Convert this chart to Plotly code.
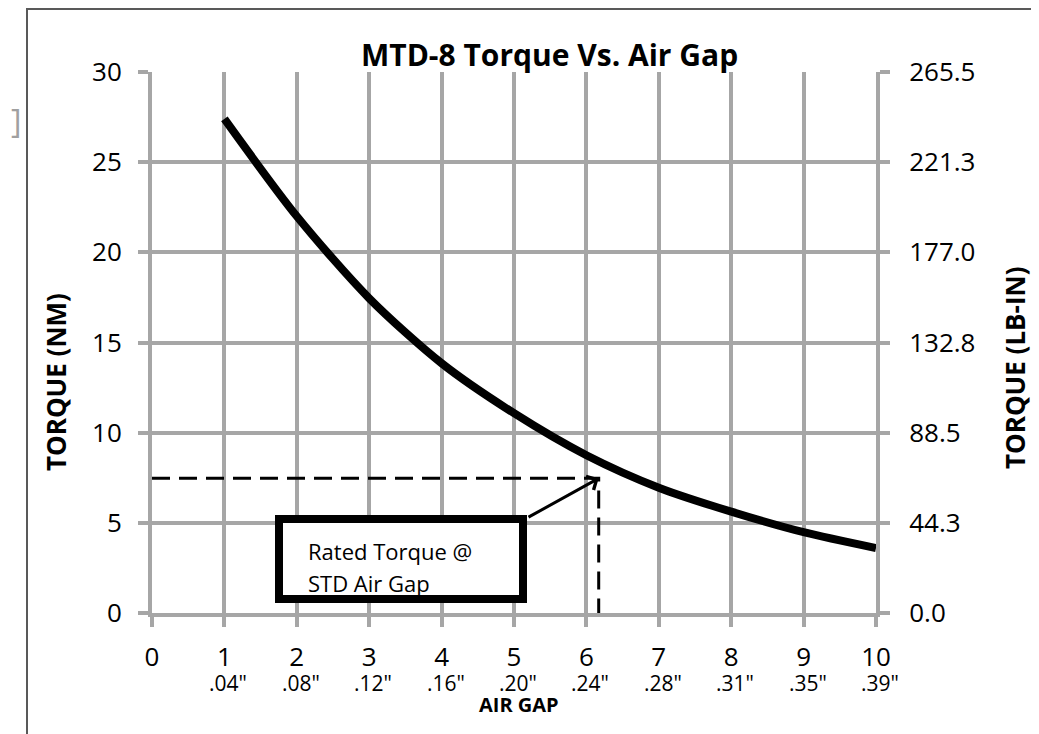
import plotly.graph_objects as go

# ---- data ----
gap_pos = [1, 2, 3, 4, 5, 6, 7, 8, 9, 10]
torque_nm = [27.4, 22.0, 17.45, 13.85, 11.08, 8.75, 6.95, 5.62, 4.48, 3.6]

x_ticks = [0, 1, 2, 3, 4, 5, 6, 7, 8, 9, 10]
x_sub_labels = ['.04"', '.08"', '.12"', '.16"', '.20"', '.24"', '.28"', '.31"', '.35"', '.39"']
nm_ticks = [0, 5, 10, 15, 20, 25, 30]
lbin_tick_labels = ["0.0", "44.3", "88.5", "132.8", "177.0", "221.3", "265.5"]
NM_TO_LBIN = 8.85

rated_gap = 6.17
rated_torque = 7.47

GRID = "#A6A6A6"
FONT = "Open Sans"

# ---- geometry: page pixels (body has an 8px margin) ----
OFF = 8
W, H = 1031, 726
L, R, T, B = 152 - OFF, 876 - OFF, 72 - OFF, 613 - OFF
XU = (R - L) / 10.0
YU = (B - T) / 30.0


def px(xpage):
    return (xpage - OFF - L) / (R - L)


def py(ypage):
    return (B - (ypage - OFF)) / (B - T)


def dx(xpage):
    return (xpage - OFF - L) / XU


def dy(ypage):
    return (B - (ypage - OFF)) / YU


fig = go.Figure()

fig.add_trace(go.Scatter(
    x=gap_pos, y=torque_nm, mode="lines",
    line=dict(color="black", width=8, shape="spline", smoothing=0.8),
    showlegend=False, hoverinfo="skip"))

# invisible trace on the right axis so it is drawn
fig.add_trace(go.Scatter(
    x=gap_pos, y=[v * NM_TO_LBIN for v in torque_nm], mode="lines",
    line=dict(width=0), opacity=0, yaxis="y2",
    showlegend=False, hoverinfo="skip"))

# dashed rated-torque guide
fig.add_trace(go.Scatter(
    x=[0, rated_gap, rated_gap], y=[rated_torque, rated_torque, 0],
    mode="lines", line=dict(color="black", width=3, dash="18px,9px"),
    showlegend=False, hoverinfo="skip"))

axis_common = dict(
    showgrid=True, gridcolor=GRID, gridwidth=4,
    showline=True, linecolor=GRID, linewidth=4,
    ticks="outside", ticklen=10, tickwidth=4, tickcolor=GRID,
    zeroline=False,
    tickfont=dict(family=FONT, size=26, color="black"),
)

fig.update_layout(
    width=W, height=H,
    margin=dict(l=L, r=W - R, t=T, b=H - B),
    paper_bgcolor="white", plot_bgcolor="white",
    xaxis=dict(range=[0, 10], tickvals=x_ticks, ticktext=[str(v) for v in x_ticks],
               ticklabelstandoff=8, **axis_common),
    yaxis=dict(range=[0, 30], tickvals=nm_ticks, ticktext=[str(v) for v in nm_ticks],
               ticklabelstandoff=11, **axis_common),
    yaxis2=dict(range=[0, 30 * NM_TO_LBIN], overlaying="y", side="right",
                tickvals=[v * NM_TO_LBIN for v in nm_ticks], ticktext=lbin_tick_labels,
                showgrid=False, showline=True, linecolor=GRID, linewidth=4,
                ticks="outside", ticklen=10, tickwidth=4, tickcolor=GRID,
                zeroline=False, ticklabelstandoff=14,
                tickfont=dict(family=FONT, size=26, color="black")),
    showlegend=False,
)

annotations = []
# sub labels under x ticks
for xv, lab in zip(x_ticks[1:], x_sub_labels):
    annotations.append(dict(x=xv, y=0, xref="x", yref="paper", text=lab, showarrow=False,
                            xanchor="center", yanchor="middle", yshift=-(683 - 613), xshift=4,
                            font=dict(family=FONT, size=21, color="black")))

annotations += [
    dict(x=px(549), y=py(54), xref="paper", yref="paper", text="<b>MTD-8 Torque Vs. Air Gap</b>",
         showarrow=False, xanchor="center", yanchor="middle",
         font=dict(family=FONT, size=30, color="black")),
    dict(x=px(56), y=py(382), xref="paper", yref="paper", text="<b>TORQUE (NM)</b>",
         showarrow=False, textangle=-90, xanchor="center", yanchor="middle",
         font=dict(family=FONT, size=26, color="black")),
    dict(x=px(1015), y=py(368), xref="paper", yref="paper", text="<b>TORQUE (LB-IN)</b>",
         showarrow=False, textangle=-90, xanchor="center", yanchor="middle",
         font=dict(family=FONT, size=26, color="black")),
    dict(x=px(519), y=py(704), xref="paper", yref="paper", text="<b>AIR GAP</b>",
         showarrow=False, xanchor="center", yanchor="middle",
         font=dict(family=FONT, size=20, color="black")),
    # arrow from box to rated point
    dict(x=rated_gap, y=rated_torque, xref="x", yref="y",
         ax=dx(527), ay=dy(518), axref="x", ayref="y", text="", showarrow=True,
         arrowhead=4, arrowsize=1, arrowwidth=3, arrowcolor="black", standoff=0),
    dict(x=dx(306), y=dy(551), xref="x", yref="y", text="Rated Torque @",
         showarrow=False, xanchor="left", yanchor="middle",
         font=dict(family=FONT, size=22, color="black")),
    dict(x=dx(306), y=dy(583), xref="x", yref="y", text="STD Air Gap",
         showarrow=False, xanchor="left", yanchor="middle",
         font=dict(family=FONT, size=22, color="black")),
    # stray bracket mark at the far left edge
    dict(x=px(9), y=py(120), xref="paper", yref="paper", text="]", showarrow=False,
         xanchor="left", yanchor="middle", font=dict(family=FONT, size=32, color="#a0a0a0")),
]
fig.update_layout(annotations=annotations)

shapes = [
    # outer chart frame
    dict(type="rect", xref="paper", yref="paper", x0=px(27), x1=px(1035), y0=py(760), y1=py(9),
         line=dict(color="#595959", width=2), fillcolor="rgba(0,0,0,0)", layer="below"),
    # annotation box
    dict(type="rect", xref="x", yref="y", x0=dx(279), x1=dx(523),
         y0=dy(599), y1=dy(519),
         line=dict(color="black", width=8), fillcolor="white", layer="above"),
]
fig.update_layout(shapes=shapes)

fig.write_html("out.html")
